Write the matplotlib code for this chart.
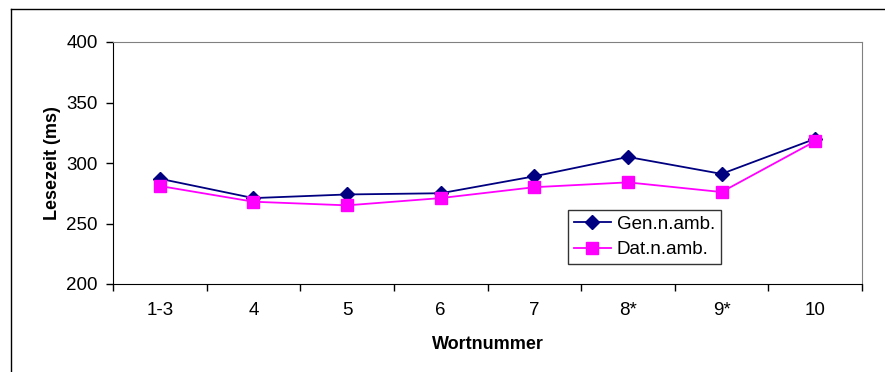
import matplotlib
matplotlib.use("Agg")
import matplotlib.pyplot as plt
from matplotlib.lines import Line2D

plt.rcParams["font.family"] = ["Liberation Sans", "DejaVu Sans"]

words = ["1-3", "4", "5", "6", "7", "8*", "9*", "10"]
gen_namb = [287, 271, 274, 275, 289, 305, 291, 320]
dat_namb = [281, 268, 265, 271, 280, 284, 276, 318]

fig = plt.figure(figsize=(8.85, 3.72), dpi=100)
ax = fig.add_axes([113 / 885, 88 / 372, 749 / 885, 242 / 372])

x = range(len(words))
ax.plot(x, gen_namb, color="#000080", lw=1.3, marker="D", ms=7.5, label="Gen.n.amb.")
ax.plot(x, dat_namb, color="#FF00FF", lw=1.3, marker="s", ms=9, label="Dat.n.amb.")

ax.set_xlim(-0.5, len(words) - 0.5)
ax.set_ylim(200, 400)
ax.set_yticks([200, 250, 300, 350, 400])
ax.set_xticks(list(x))
ax.set_xticklabels(words)
ax.set_xticks([i - 0.5 for i in range(len(words) + 1)], minor=True)
ax.tick_params(axis="x", which="major", length=0, pad=13, labelsize=13.5)
ax.tick_params(axis="x", which="minor", length=5, width=1, direction="out")
ax.tick_params(axis="y", length=5, width=1, direction="out", pad=6, labelsize=13.5)

for side in ("top", "right"):
    ax.spines[side].set_color("#808080")
for side in ("left", "bottom"):
    ax.spines[side].set_color("black")

ax.set_ylabel("Lesezeit (ms)", fontsize=13, fontweight="bold", labelpad=4)
ax.set_xlabel("Wortnummer", fontsize=13, fontweight="bold", labelpad=12)

leg = ax.legend(loc="upper left", bbox_to_anchor=(568 / 885, 1 - 210 / 372), bbox_transform=fig.transFigure,
                fontsize=13.5, frameon=True, fancybox=False, handlelength=2.0, handletextpad=0.3,
                borderpad=0.3, labelspacing=0.45, borderaxespad=0)
leg.get_frame().set_edgecolor("black")
leg.get_frame().set_linewidth(1)

# outer chart frame (only top and left edges show)
fig.add_artist(Line2D([11 / 885, 1], [1 - 9 / 372, 1 - 9 / 372], color="black", lw=1))
fig.add_artist(Line2D([11 / 885, 11 / 885], [0, 1 - 9 / 372], color="black", lw=1))

fig.savefig("out.png", dpi=100)
